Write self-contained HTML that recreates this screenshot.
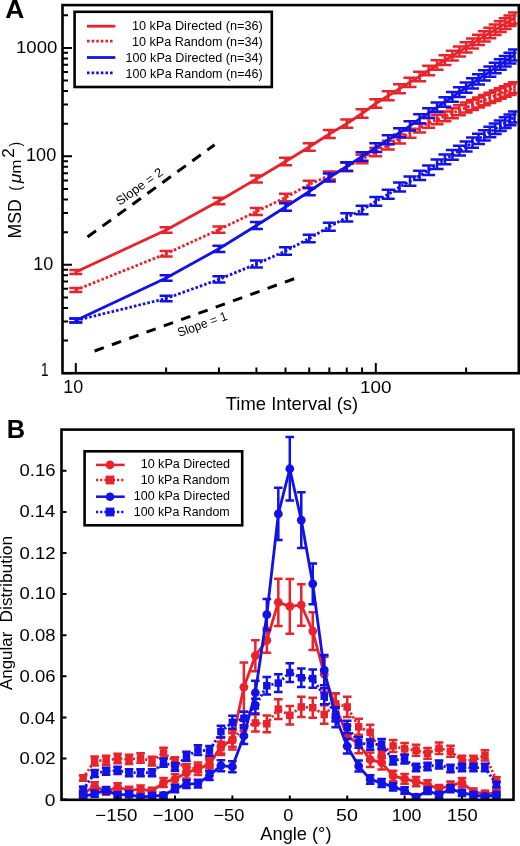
<!DOCTYPE html><html><head><meta charset="utf-8"><style>
html,body{margin:0;padding:0;background:#fff;}
body{width:520px;height:846px;overflow:hidden;}
svg{display:block;will-change:transform;}
text{font-family:"Liberation Sans", sans-serif;fill:#000;}
</style></head><body>
<svg width="520" height="846" viewBox="0 0 520 846">
<text transform="translate(5.34,18.30) scale(0.9917,1)" font-size="26.60" font-weight="bold">A</text>
<defs><clipPath id="ca"><rect x="63.5" y="6.5" width="454" height="365.5"/></clipPath>
<clipPath id="cb"><rect x="62.5" y="430.5" width="450" height="368.5"/></clipPath></defs>
<line x1="87.5" y1="237" x2="214.6" y2="144.8" stroke="#000" stroke-width="3" stroke-dasharray="10.5 8"/>
<line x1="94.6" y1="351" x2="294.6" y2="278.6" stroke="#000" stroke-width="3" stroke-dasharray="9.8 8.6"/>
<text transform="translate(120.30,205.60) rotate(-35.90) translate(-0.59,0) scale(1.0176,1)" font-size="12.60">Slope = 2</text>
<text transform="translate(179.80,336.90) rotate(-19.80) translate(-0.56,0) scale(0.9696,1)" font-size="12.60">Slope = 1</text>
<g clip-path="url(#ca)">
<path d="M75.80,320.50 L166.11,298.50 L218.94,279.40 L256.42,264.00 L285.49,251.00 L309.25,238.50 L329.33,226.70 L346.73,217.40 L362.07,210.00 L375.80,201.30 L388.22,194.30 L399.55,187.00 L409.98,181.20 L419.64,175.40 L428.63,170.30 L437.04,164.30 L444.93,159.48 L452.38,154.93 L459.43,150.63 L466.11,146.55 L472.47,142.67 L478.53,138.97 L484.32,135.44 L489.86,132.05 L495.18,128.80 L500.29,125.69 L505.21,122.68 L509.95,119.79 L514.52,117.00" fill="none" stroke="#1212E6" stroke-width="2.8" stroke-dasharray="2.6 2"/><path d="M75.80,318.40V322.60M69.30,318.40h13M69.30,322.60h13M166.11,295.72V301.28M159.61,295.72h13M159.61,301.28h13M218.94,276.23V282.57M212.44,276.23h13M212.44,282.57h13M256.42,260.55V267.45M249.92,260.55h13M249.92,267.45h13M285.49,247.33V254.67M278.99,247.33h13M278.99,254.67h13M309.25,234.65V242.35M302.75,234.65h13M302.75,242.35h13M329.33,222.70V230.70M322.83,222.70h13M322.83,230.70h13M346.73,213.27V221.53M340.23,213.27h13M340.23,221.53h13M362.07,205.76V214.24M355.57,205.76h13M355.57,214.24h13M375.80,196.96V205.64M369.30,196.96h13M369.30,205.64h13M388.22,189.86V198.74M381.72,189.86h13M381.72,198.74h13M399.55,182.48V191.52M393.05,182.48h13M393.05,191.52h13M409.98,176.60V185.80M403.48,176.60h13M403.48,185.80h13M419.64,170.73V180.07M413.14,170.73h13M413.14,180.07h13M428.63,165.56V175.04M422.13,165.56h13M422.13,175.04h13M437.04,159.50V169.10M430.54,159.50h13M430.54,169.10h13M444.93,154.62V164.34M438.43,154.62h13M438.43,164.34h13M452.38,150.01V159.85M445.88,150.01h13M445.88,159.85h13M459.43,145.66V155.60M452.93,145.66h13M452.93,155.60h13M466.11,141.53V151.57M459.61,141.53h13M459.61,151.57h13M472.47,137.60V147.74M465.97,137.60h13M465.97,147.74h13M478.53,133.86V144.09M472.03,133.86h13M472.03,144.09h13M484.32,130.28V140.59M477.82,130.28h13M477.82,140.59h13M489.86,126.85V137.25M483.36,126.85h13M483.36,137.25h13M495.18,123.57V134.04M488.68,123.57h13M488.68,134.04h13M500.29,120.41V130.96M493.79,120.41h13M493.79,130.96h13M505.21,117.37V128.00M498.71,117.37h13M498.71,128.00h13M509.95,114.44V125.14M503.45,114.44h13M503.45,125.14h13M514.52,111.62V122.38M508.02,111.62h13M508.02,122.38h13" fill="none" stroke="#1212E6" stroke-width="2.5"/>
<path d="M75.80,290.00 L166.11,253.70 L218.94,229.60 L256.42,211.50 L285.49,197.50 L309.25,184.50 L329.33,175.50 L346.73,167.00 L362.07,159.08 L375.80,152.00 L388.22,145.18 L399.55,138.96 L409.98,133.23 L419.64,127.93 L428.63,123.00 L437.04,119.54 L444.93,116.30 L452.38,113.24 L459.43,110.34 L466.11,107.60 L472.47,104.98 L478.53,102.49 L484.32,100.11 L489.86,97.83 L495.18,95.65 L500.29,93.55 L505.21,91.53 L509.95,89.58 L514.52,87.70" fill="none" stroke="#E8232B" stroke-width="2.8" stroke-dasharray="2.6 2"/><path d="M75.80,287.90V292.10M69.30,287.90h13M69.30,292.10h13M166.11,250.92V256.48M159.61,250.92h13M159.61,256.48h13M218.94,226.43V232.77M212.44,226.43h13M212.44,232.77h13M256.42,208.05V214.95M249.92,208.05h13M249.92,214.95h13M285.49,193.83V201.17M278.99,193.83h13M278.99,201.17h13M309.25,180.65V188.35M302.75,180.65h13M302.75,188.35h13M329.33,171.50V179.50M322.83,171.50h13M322.83,179.50h13M346.73,162.87V171.13M340.23,162.87h13M340.23,171.13h13M362.07,154.84V163.32M355.57,154.84h13M355.57,163.32h13M375.80,147.66V156.34M369.30,147.66h13M369.30,156.34h13M388.22,140.75V149.62M381.72,140.75h13M381.72,149.62h13M399.55,134.44V143.48M393.05,134.44h13M393.05,143.48h13M409.98,128.63V137.84M403.48,128.63h13M403.48,137.84h13M419.64,123.26V132.61M413.14,123.26h13M413.14,132.61h13M428.63,118.26V127.74M422.13,118.26h13M422.13,127.74h13M437.04,114.74V124.35M430.54,114.74h13M430.54,124.35h13M444.93,111.44V121.16M438.43,111.44h13M438.43,121.16h13M452.38,108.32V118.16M445.88,108.32h13M445.88,118.16h13M459.43,105.37V115.31M452.93,105.37h13M452.93,115.31h13M466.11,102.58V112.62M459.61,102.58h13M459.61,112.62h13M472.47,99.91V110.05M465.97,99.91h13M465.97,110.05h13M478.53,97.38V107.61M472.03,97.38h13M472.03,107.61h13M484.32,94.96V105.27M477.82,94.96h13M477.82,105.27h13M489.86,92.63V103.03M483.36,92.63h13M483.36,103.03h13M495.18,90.41V100.89M488.68,90.41h13M488.68,100.89h13M500.29,88.27V98.82M493.79,88.27h13M493.79,98.82h13M505.21,86.21V96.84M498.71,86.21h13M498.71,96.84h13M509.95,84.23V94.93M503.45,84.23h13M503.45,94.93h13M514.52,82.32V93.08M508.02,82.32h13M508.02,93.08h13" fill="none" stroke="#E8232B" stroke-width="2.5"/>
<path d="M75.80,320.50 L166.11,278.00 L218.94,248.80 L256.42,225.50 L285.49,207.00 L309.25,191.50 L329.33,177.50 L346.73,166.50 L362.07,156.50 L375.80,147.70 L388.22,139.70 L399.55,132.70 L409.98,125.80 L419.64,118.90 L428.63,113.10 L437.04,107.30 L444.93,102.00 L452.38,96.90 L459.43,92.15 L466.11,87.64 L472.47,83.36 L478.53,79.27 L484.32,75.36 L489.86,71.63 L495.18,68.04 L500.29,64.59 L505.21,61.28 L509.95,58.08 L514.52,55.00" fill="none" stroke="#1212E6" stroke-width="2.8"/><path d="M75.80,318.40V322.60M69.30,318.40h13M69.30,322.60h13M166.11,275.22V280.78M159.61,275.22h13M159.61,280.78h13M218.94,245.63V251.97M212.44,245.63h13M212.44,251.97h13M256.42,222.05V228.95M249.92,222.05h13M249.92,228.95h13M285.49,203.33V210.67M278.99,203.33h13M278.99,210.67h13M309.25,187.65V195.35M302.75,187.65h13M302.75,195.35h13M329.33,173.50V181.50M322.83,173.50h13M322.83,181.50h13M346.73,162.37V170.63M340.23,162.37h13M340.23,170.63h13M362.07,152.26V160.74M355.57,152.26h13M355.57,160.74h13M375.80,143.36V152.04M369.30,143.36h13M369.30,152.04h13M388.22,135.26V144.14M381.72,135.26h13M381.72,144.14h13M399.55,128.18V137.22M393.05,128.18h13M393.05,137.22h13M409.98,121.20V130.40M403.48,121.20h13M403.48,130.40h13M419.64,114.23V123.57M413.14,114.23h13M413.14,123.57h13M428.63,108.36V117.84M422.13,108.36h13M422.13,117.84h13M437.04,102.50V112.10M430.54,102.50h13M430.54,112.10h13M444.93,97.14V106.86M438.43,97.14h13M438.43,106.86h13M452.38,91.98V101.82M445.88,91.98h13M445.88,101.82h13M459.43,87.18V97.12M452.93,87.18h13M452.93,97.12h13M466.11,82.62V92.66M459.61,82.62h13M459.61,92.66h13M472.47,78.29V88.43M465.97,78.29h13M465.97,88.43h13M478.53,74.16V84.38M472.03,74.16h13M472.03,84.38h13M484.32,70.21V80.52M477.82,70.21h13M477.82,80.52h13M489.86,66.43V76.82M483.36,66.43h13M483.36,76.82h13M495.18,62.80V73.28M488.68,62.80h13M488.68,73.28h13M500.29,59.32V69.87M493.79,59.32h13M493.79,69.87h13M505.21,55.96V66.59M498.71,55.96h13M498.71,66.59h13M509.95,52.73V63.43M503.45,52.73h13M503.45,63.43h13M514.52,49.62V60.38M508.02,49.62h13M508.02,60.38h13" fill="none" stroke="#1212E6" stroke-width="2.5"/>
<path d="M75.80,272.00 L166.11,230.00 L218.94,201.00 L256.42,179.00 L285.49,161.50 L309.25,147.00 L329.33,134.00 L346.73,123.70 L362.07,113.50 L375.80,103.50 L388.22,95.80 L399.55,88.80 L409.98,82.30 L419.64,76.50 L428.63,70.50 L437.04,65.00 L444.93,60.21 L452.38,55.69 L459.43,51.42 L466.11,47.36 L472.47,43.51 L478.53,39.83 L484.32,36.32 L489.86,32.96 L495.18,29.73 L500.29,26.63 L505.21,23.65 L509.95,20.77 L514.52,18.00" fill="none" stroke="#E8232B" stroke-width="2.8"/><path d="M75.80,269.90V274.10M69.30,269.90h13M69.30,274.10h13M166.11,227.22V232.78M159.61,227.22h13M159.61,232.78h13M218.94,197.83V204.17M212.44,197.83h13M212.44,204.17h13M256.42,175.55V182.45M249.92,175.55h13M249.92,182.45h13M285.49,157.83V165.17M278.99,157.83h13M278.99,165.17h13M309.25,143.15V150.85M302.75,143.15h13M302.75,150.85h13M329.33,130.00V138.00M322.83,130.00h13M322.83,138.00h13M346.73,119.57V127.83M340.23,119.57h13M340.23,127.83h13M362.07,109.26V117.74M355.57,109.26h13M355.57,117.74h13M375.80,99.16V107.84M369.30,99.16h13M369.30,107.84h13M388.22,91.36V100.24M381.72,91.36h13M381.72,100.24h13M399.55,84.28V93.32M393.05,84.28h13M393.05,93.32h13M409.98,77.70V86.90M403.48,77.70h13M403.48,86.90h13M419.64,71.83V81.17M413.14,71.83h13M413.14,81.17h13M428.63,65.76V75.24M422.13,65.76h13M422.13,75.24h13M437.04,60.20V69.80M430.54,60.20h13M430.54,69.80h13M444.93,55.35V65.07M438.43,55.35h13M438.43,65.07h13M452.38,50.77V60.61M445.88,50.77h13M445.88,60.61h13M459.43,46.45V56.39M452.93,46.45h13M452.93,56.39h13M466.11,42.34V52.39M459.61,42.34h13M459.61,52.39h13M472.47,38.44V48.58M465.97,38.44h13M465.97,48.58h13M478.53,34.72V44.95M472.03,34.72h13M472.03,44.95h13M484.32,31.16V41.48M477.82,31.16h13M477.82,41.48h13M489.86,27.76V38.15M483.36,27.76h13M483.36,38.15h13M495.18,24.49V34.97M488.68,24.49h13M488.68,34.97h13M500.29,21.35V31.91M493.79,21.35h13M493.79,31.91h13M505.21,18.33V28.96M498.71,18.33h13M498.71,28.96h13M509.95,15.42V26.12M503.45,15.42h13M503.45,26.12h13M514.52,12.62V23.38M508.02,12.62h13M508.02,23.38h13" fill="none" stroke="#E8232B" stroke-width="2.5"/>
</g>
<path d="M63,373.20h9M63,340.56h5M63,321.47h5M63,307.92h5M63,297.41h5M63,288.83h5M63,281.57h5M63,275.28h5M63,269.73h5M63,264.77h9M63,232.13h5M63,213.04h5M63,199.49h5M63,188.98h5M63,180.40h5M63,173.14h5M63,166.85h5M63,161.30h5M63,156.34h9M63,123.70h5M63,104.61h5M63,91.06h5M63,80.55h5M63,71.97h5M63,64.71h5M63,58.42h5M63,52.87h5M63,47.91h9M63,15.27h5M75.80,373v-10.0M166.11,373v-5.5M218.94,373v-5.5M256.42,373v-5.5M285.49,373v-5.5M309.25,373v-5.5M329.33,373v-5.5M346.73,373v-5.5M362.07,373v-5.5M375.80,373v-10.0M466.11,373v-5.5" stroke="#000" stroke-width="2" fill="none"/>
<rect x="62.5" y="5.1" width="456.3" height="368.1" fill="none" stroke="#000" stroke-width="2.6"/>
<text transform="translate(15.99,52.83) scale(1.0787,1)" font-size="17.23">1000</text>
<text transform="translate(26.02,161.42) scale(1.0331,1)" font-size="17.51">100</text>
<text transform="translate(33.24,269.52) scale(1.0009,1)" font-size="17.94">10</text>
<text transform="translate(41.08,376.12) scale(0.7502,1)" font-size="17.94">1</text>
<text transform="translate(63.24,392.82) scale(1.0251,1)" font-size="17.51">10</text>
<text transform="translate(360.07,393.13) scale(1.1039,1)" font-size="17.09">100</text>
<text transform="translate(225.79,410.00) scale(1.0289,1)" font-size="17.90">Time Interval (s)</text>
<text transform="translate(21.30,237.10) rotate(-90.00) translate(-1.45,0) scale(0.9854,1)" font-size="17.90">MSD</text>
<text transform="translate(20.80,237.10) rotate(-90.00) translate(46.29,0) scale(0.8507,1)" font-size="17.30">(</text>
<text transform="translate(20.50,237.10) rotate(-90.00) translate(53.77,0) scale(1.1360,1)" font-size="15.60" font-style="italic">&#956;</text>
<text transform="translate(20.60,237.10) rotate(-90.00) translate(63.37,0) scale(1.1044,1)" font-size="15.50">m</text>
<text transform="translate(13.60,237.10) rotate(-90.00) translate(79.24,0) scale(1.0367,1)" font-size="16.50">2</text>
<text transform="translate(20.80,237.10) rotate(-90.00) translate(90.62,0) scale(0.7853,1)" font-size="17.30">)</text>
<rect x="74.6" y="11.8" width="197.2" height="75.2" fill="#fff" stroke="#000" stroke-width="2.6"/>
<line x1="87" y1="26.2" x2="115.3" y2="26.2" stroke="#E8232B" stroke-width="2.8"/>
<line x1="87" y1="41.2" x2="112.6" y2="41.2" stroke="#E8232B" stroke-width="2.8" stroke-dasharray="2.6 2"/>
<line x1="87" y1="57.5" x2="115.3" y2="57.5" stroke="#1212E6" stroke-width="2.8"/>
<line x1="87" y1="72.8" x2="112.6" y2="72.8" stroke="#1212E6" stroke-width="2.8" stroke-dasharray="2.6 2"/>
<text transform="translate(131.94,30.20) scale(0.9992,1)" font-size="12.70">10 kPa Directed (n=36)</text>
<text transform="translate(131.94,46.00) scale(0.9938,1)" font-size="12.70">10 kPa Random (n=34)</text>
<text transform="translate(125.54,61.90) scale(0.9944,1)" font-size="12.70">100 kPa Directed (n=34)</text>
<text transform="translate(125.55,78.30) scale(0.9893,1)" font-size="12.70">100 kPa Random (n=46)</text>
<text transform="translate(6.70,437.70) scale(0.9553,1)" font-size="26.60" font-weight="bold">B</text>
<g clip-path="url(#cb)">
<path d="M83.16,793.44 L94.64,786.24 L106.12,791.38 L117.60,787.27 L129.08,790.35 L140.56,789.12 L152.04,791.17 L163.52,782.54 L175.00,779.05 L186.48,772.88 L197.96,768.77 L209.44,764.66 L220.92,746.17 L232.40,740.00 L243.88,687.19 L255.36,655.75 L266.84,640.34 L278.32,602.32 L289.80,606.43 L301.28,604.99 L312.76,631.09 L324.24,674.25 L335.72,707.12 L347.20,735.89 L358.68,744.12 L370.16,759.73 L381.64,762.61 L393.12,775.97 L404.60,778.84 L416.08,781.52 L427.56,784.60 L439.04,788.71 L450.52,785.63 L462.00,782.54 L473.48,791.79 L484.96,793.85 L496.44,792.82" fill="none" stroke="#E8232B" stroke-width="2.8"/><path d="M83.16,790.23V796.64M78.86,790.23h8.6M78.86,796.64h8.6M94.64,782.17V790.31M90.34,782.17h8.6M90.34,790.31h8.6M106.12,787.93V794.83M101.82,787.93h8.6M101.82,794.83h8.6M117.60,783.32V791.22M113.30,783.32h8.6M113.30,791.22h8.6M129.08,786.78V793.93M124.78,786.78h8.6M124.78,793.93h8.6M140.56,785.40V792.84M136.26,785.40h8.6M136.26,792.84h8.6M152.04,787.70V794.65M147.74,787.70h8.6M147.74,794.65h8.6M163.52,778.03V787.06M159.22,778.03h8.6M159.22,787.06h8.6M175.00,774.12V783.98M170.70,774.12h8.6M170.70,783.98h8.6M186.48,767.21V778.56M182.18,767.21h8.6M182.18,778.56h8.6M197.96,762.61V774.94M193.66,762.61h8.6M193.66,774.94h8.6M209.44,758.01V771.32M205.14,758.01h8.6M205.14,771.32h8.6M220.92,737.29V755.05M216.62,737.29h8.6M216.62,755.05h8.6M232.40,730.39V749.62M228.10,730.39h8.6M228.10,749.62h8.6M243.88,662.53V711.85M239.58,662.53h8.6M239.58,711.85h8.6M255.36,640.13V671.37M251.06,640.13h8.6M251.06,671.37h8.6M266.84,628.01V652.67M262.54,628.01h8.6M262.54,652.67h8.6M278.32,578.69V625.95M274.02,578.69h8.6M274.02,625.95h8.6M289.80,579.10V633.76M285.50,579.10h8.6M285.50,633.76h8.6M301.28,584.24V625.75M296.98,584.24h8.6M296.98,625.75h8.6M312.76,612.18V650.00M308.46,612.18h8.6M308.46,650.00h8.6M324.24,656.74V691.75M319.94,656.74h8.6M319.94,691.75h8.6M335.72,693.56V720.69M331.42,693.56h8.6M331.42,720.69h8.6M347.20,725.78V746.01M342.90,725.78h8.6M342.90,746.01h8.6M358.68,734.99V753.24M354.38,734.99h8.6M354.38,753.24h8.6M370.16,752.48V766.98M365.86,752.48h8.6M365.86,766.98h8.6M381.64,755.71V769.51M377.34,755.71h8.6M377.34,769.51h8.6M393.12,770.67V781.27M388.82,770.67h8.6M388.82,781.27h8.6M404.60,773.89V783.80M400.30,773.89h8.6M400.30,783.80h8.6M416.08,776.88V786.15M411.78,776.88h8.6M411.78,786.15h8.6M427.56,780.33V788.86M423.26,780.33h8.6M423.26,788.86h8.6M439.04,784.94V792.48M434.74,784.94h8.6M434.74,792.48h8.6M450.52,781.48V789.77M446.22,781.48h8.6M446.22,789.77h8.6M462.00,778.03V787.06M457.70,778.03h8.6M457.70,787.06h8.6M473.48,788.39V795.19M469.18,788.39h8.6M469.18,795.19h8.6M484.96,790.69V797.00M480.66,790.69h8.6M480.66,797.00h8.6M496.44,789.54V796.10M492.14,789.54h8.6M492.14,796.10h8.6" fill="none" stroke="#E8232B" stroke-width="2.5"/><circle cx="83.16" cy="793.44" r="4.4" fill="#E8232B"/><circle cx="94.64" cy="786.24" r="4.4" fill="#E8232B"/><circle cx="106.12" cy="791.38" r="4.4" fill="#E8232B"/><circle cx="117.60" cy="787.27" r="4.4" fill="#E8232B"/><circle cx="129.08" cy="790.35" r="4.4" fill="#E8232B"/><circle cx="140.56" cy="789.12" r="4.4" fill="#E8232B"/><circle cx="152.04" cy="791.17" r="4.4" fill="#E8232B"/><circle cx="163.52" cy="782.54" r="4.4" fill="#E8232B"/><circle cx="175.00" cy="779.05" r="4.4" fill="#E8232B"/><circle cx="186.48" cy="772.88" r="4.4" fill="#E8232B"/><circle cx="197.96" cy="768.77" r="4.4" fill="#E8232B"/><circle cx="209.44" cy="764.66" r="4.4" fill="#E8232B"/><circle cx="220.92" cy="746.17" r="4.4" fill="#E8232B"/><circle cx="232.40" cy="740.00" r="4.4" fill="#E8232B"/><circle cx="243.88" cy="687.19" r="4.4" fill="#E8232B"/><circle cx="255.36" cy="655.75" r="4.4" fill="#E8232B"/><circle cx="266.84" cy="640.34" r="4.4" fill="#E8232B"/><circle cx="278.32" cy="602.32" r="4.4" fill="#E8232B"/><circle cx="289.80" cy="606.43" r="4.4" fill="#E8232B"/><circle cx="301.28" cy="604.99" r="4.4" fill="#E8232B"/><circle cx="312.76" cy="631.09" r="4.4" fill="#E8232B"/><circle cx="324.24" cy="674.25" r="4.4" fill="#E8232B"/><circle cx="335.72" cy="707.12" r="4.4" fill="#E8232B"/><circle cx="347.20" cy="735.89" r="4.4" fill="#E8232B"/><circle cx="358.68" cy="744.12" r="4.4" fill="#E8232B"/><circle cx="370.16" cy="759.73" r="4.4" fill="#E8232B"/><circle cx="381.64" cy="762.61" r="4.4" fill="#E8232B"/><circle cx="393.12" cy="775.97" r="4.4" fill="#E8232B"/><circle cx="404.60" cy="778.84" r="4.4" fill="#E8232B"/><circle cx="416.08" cy="781.52" r="4.4" fill="#E8232B"/><circle cx="427.56" cy="784.60" r="4.4" fill="#E8232B"/><circle cx="439.04" cy="788.71" r="4.4" fill="#E8232B"/><circle cx="450.52" cy="785.63" r="4.4" fill="#E8232B"/><circle cx="462.00" cy="782.54" r="4.4" fill="#E8232B"/><circle cx="473.48" cy="791.79" r="4.4" fill="#E8232B"/><circle cx="484.96" cy="793.85" r="4.4" fill="#E8232B"/><circle cx="496.44" cy="792.82" r="4.4" fill="#E8232B"/>
<path d="M83.16,778.02 L94.64,760.97 L106.12,760.35 L117.60,758.50 L129.08,759.32 L140.56,758.09 L152.04,761.17 L163.52,752.95 L175.00,761.58 L186.48,767.75 L197.96,768.57 L209.44,763.84 L220.92,747.61 L232.40,740.00 L243.88,727.67 L255.36,722.95 L266.84,723.77 L278.32,709.18 L289.80,715.35 L301.28,706.92 L312.76,707.74 L324.24,714.52 L335.72,703.84 L347.20,706.92 L358.68,726.85 L370.16,732.20 L381.64,752.95 L393.12,745.96 L404.60,748.84 L416.08,750.28 L427.56,753.36 L439.04,748.23 L450.52,751.31 L462.00,760.35 L473.48,760.35 L484.96,755.42 L496.44,779.67" fill="none" stroke="#E8232B" stroke-width="2.8" stroke-dasharray="2.2 2"/><path d="M83.16,775.35V780.70M78.86,775.35h8.6M78.86,780.70h8.6M94.64,756.50V765.43M90.34,756.50h8.6M90.34,765.43h8.6M106.12,755.82V764.88M101.82,755.82h8.6M101.82,764.88h8.6M117.60,753.77V763.23M113.30,753.77h8.6M113.30,763.23h8.6M129.08,754.68V763.96M124.78,754.68h8.6M124.78,763.96h8.6M140.56,753.32V762.86M136.26,753.32h8.6M136.26,762.86h8.6M152.04,756.73V765.62M147.74,756.73h8.6M147.74,765.62h8.6M163.52,747.64V758.26M159.22,747.64h8.6M159.22,758.26h8.6M175.00,757.18V765.99M170.70,757.18h8.6M170.70,765.99h8.6M186.48,763.99V771.50M182.18,763.99h8.6M182.18,771.50h8.6M197.96,764.90V772.24M193.66,764.90h8.6M193.66,772.24h8.6M209.44,759.68V768.01M205.14,759.68h8.6M205.14,768.01h8.6M220.92,741.74V753.48M216.62,741.74h8.6M216.62,753.48h8.6M232.40,733.34V746.67M228.10,733.34h8.6M228.10,746.67h8.6M243.88,719.71V735.64M239.58,719.71h8.6M239.58,735.64h8.6M255.36,714.49V731.41M251.06,714.49h8.6M251.06,731.41h8.6M266.84,715.40V732.14M262.54,715.40h8.6M262.54,732.14h8.6M278.32,699.27V719.09M274.02,699.27h8.6M274.02,719.09h8.6M289.80,706.09V724.60M285.50,706.09h8.6M285.50,724.60h8.6M301.28,696.78V717.06M296.98,696.78h8.6M296.98,717.06h8.6M312.76,697.69V717.80M308.46,697.69h8.6M308.46,717.80h8.6M324.24,705.18V723.87M319.94,705.18h8.6M319.94,723.87h8.6M335.72,693.37V714.30M331.42,693.37h8.6M331.42,714.30h8.6M347.20,696.78V717.06M342.90,696.78h8.6M342.90,717.06h8.6M358.68,718.80V734.90M354.38,718.80h8.6M354.38,734.90h8.6M370.16,724.71V739.68M365.86,724.71h8.6M365.86,739.68h8.6M381.64,747.64V758.26M377.34,747.64h8.6M377.34,758.26h8.6M393.12,739.92V752.01M388.82,739.92h8.6M388.82,752.01h8.6M404.60,743.10V754.58M400.30,743.10h8.6M400.30,754.58h8.6M416.08,744.69V755.87M411.78,744.69h8.6M411.78,755.87h8.6M427.56,748.10V758.63M423.26,748.10h8.6M423.26,758.63h8.6M439.04,742.42V754.03M434.74,742.42h8.6M434.74,754.03h8.6M450.52,745.83V756.79M446.22,745.83h8.6M446.22,756.79h8.6M462.00,755.82V764.88M457.70,755.82h8.6M457.70,764.88h8.6M473.48,755.82V764.88M469.18,755.82h8.6M469.18,764.88h8.6M484.96,750.37V760.47M480.66,750.37h8.6M480.66,760.47h8.6M496.44,777.16V782.17M492.14,777.16h8.6M492.14,782.17h8.6" fill="none" stroke="#E8232B" stroke-width="2.5"/><rect x="79.41" y="774.27" width="7.5" height="7.5" fill="#E8232B"/><rect x="90.89" y="757.22" width="7.5" height="7.5" fill="#E8232B"/><rect x="102.37" y="756.60" width="7.5" height="7.5" fill="#E8232B"/><rect x="113.85" y="754.75" width="7.5" height="7.5" fill="#E8232B"/><rect x="125.33" y="755.57" width="7.5" height="7.5" fill="#E8232B"/><rect x="136.81" y="754.34" width="7.5" height="7.5" fill="#E8232B"/><rect x="148.29" y="757.42" width="7.5" height="7.5" fill="#E8232B"/><rect x="159.77" y="749.20" width="7.5" height="7.5" fill="#E8232B"/><rect x="171.25" y="757.83" width="7.5" height="7.5" fill="#E8232B"/><rect x="182.73" y="764.00" width="7.5" height="7.5" fill="#E8232B"/><rect x="194.21" y="764.82" width="7.5" height="7.5" fill="#E8232B"/><rect x="205.69" y="760.09" width="7.5" height="7.5" fill="#E8232B"/><rect x="217.17" y="743.86" width="7.5" height="7.5" fill="#E8232B"/><rect x="228.65" y="736.25" width="7.5" height="7.5" fill="#E8232B"/><rect x="240.13" y="723.92" width="7.5" height="7.5" fill="#E8232B"/><rect x="251.61" y="719.20" width="7.5" height="7.5" fill="#E8232B"/><rect x="263.09" y="720.02" width="7.5" height="7.5" fill="#E8232B"/><rect x="274.57" y="705.43" width="7.5" height="7.5" fill="#E8232B"/><rect x="286.05" y="711.60" width="7.5" height="7.5" fill="#E8232B"/><rect x="297.53" y="703.17" width="7.5" height="7.5" fill="#E8232B"/><rect x="309.01" y="703.99" width="7.5" height="7.5" fill="#E8232B"/><rect x="320.49" y="710.77" width="7.5" height="7.5" fill="#E8232B"/><rect x="331.97" y="700.09" width="7.5" height="7.5" fill="#E8232B"/><rect x="343.45" y="703.17" width="7.5" height="7.5" fill="#E8232B"/><rect x="354.93" y="723.10" width="7.5" height="7.5" fill="#E8232B"/><rect x="366.41" y="728.45" width="7.5" height="7.5" fill="#E8232B"/><rect x="377.89" y="749.20" width="7.5" height="7.5" fill="#E8232B"/><rect x="389.37" y="742.21" width="7.5" height="7.5" fill="#E8232B"/><rect x="400.85" y="745.09" width="7.5" height="7.5" fill="#E8232B"/><rect x="412.33" y="746.53" width="7.5" height="7.5" fill="#E8232B"/><rect x="423.81" y="749.61" width="7.5" height="7.5" fill="#E8232B"/><rect x="435.29" y="744.48" width="7.5" height="7.5" fill="#E8232B"/><rect x="446.77" y="747.56" width="7.5" height="7.5" fill="#E8232B"/><rect x="458.25" y="756.60" width="7.5" height="7.5" fill="#E8232B"/><rect x="469.73" y="756.60" width="7.5" height="7.5" fill="#E8232B"/><rect x="481.21" y="751.67" width="7.5" height="7.5" fill="#E8232B"/><rect x="492.69" y="775.92" width="7.5" height="7.5" fill="#E8232B"/>
<path d="M83.16,796.52 L94.64,793.64 L106.12,790.35 L117.60,795.08 L129.08,794.26 L140.56,797.34 L152.04,795.90 L163.52,795.49 L175.00,788.71 L186.48,784.19 L197.96,783.57 L209.44,775.35 L220.92,765.69 L232.40,766.72 L243.88,735.89 L255.36,692.74 L266.84,614.65 L278.32,513.95 L289.80,468.75 L301.28,520.12 L312.76,583.83 L324.24,670.13 L335.72,717.40 L347.20,746.17 L358.68,766.10 L370.16,779.46 L381.64,782.95 L393.12,786.86 L404.60,790.56 L416.08,797.13 L427.56,790.76 L439.04,794.87 L450.52,788.71 L462.00,792.82 L473.48,794.87 L484.96,796.72 L496.44,794.87" fill="none" stroke="#1212E6" stroke-width="2.8"/><path d="M83.16,793.77V799.26M78.86,793.77h8.6M78.86,799.26h8.6M94.64,790.64V796.64M90.34,790.64h8.6M90.34,796.64h8.6M106.12,787.05V793.65M101.82,787.05h8.6M101.82,793.65h8.6M117.60,792.21V797.95M113.30,792.21h8.6M113.30,797.95h8.6M129.08,791.31V797.20M124.78,791.31h8.6M124.78,797.20h8.6M140.56,794.67V800.01M136.26,794.67h8.6M136.26,800.01h8.6M152.04,793.10V798.70M147.74,793.10h8.6M147.74,798.70h8.6M163.52,792.65V798.33M159.22,792.65h8.6M159.22,798.33h8.6M175.00,785.26V792.15M170.70,785.26h8.6M170.70,792.15h8.6M186.48,780.33V788.04M182.18,780.33h8.6M182.18,788.04h8.6M197.96,779.66V787.48M193.66,779.66h8.6M193.66,787.48h8.6M209.44,770.70V780.00M205.14,770.70h8.6M205.14,780.00h8.6M220.92,760.17V771.21M216.62,760.17h8.6M216.62,771.21h8.6M232.40,761.29V772.15M228.10,761.29h8.6M228.10,772.15h8.6M243.88,727.70V744.09M239.58,727.70h8.6M239.58,744.09h8.6M255.36,680.66V704.82M251.06,680.66h8.6M251.06,704.82h8.6M266.84,599.03V630.27M262.54,599.03h8.6M262.54,630.27h8.6M278.32,487.86V540.05M274.02,487.86h8.6M274.02,540.05h8.6M289.80,436.89V500.60M285.50,436.89h8.6M285.50,500.60h8.6M301.28,492.17V548.07M296.98,492.17h8.6M296.98,548.07h8.6M312.76,563.48V604.17M308.46,563.48h8.6M308.46,604.17h8.6M324.24,654.93V685.34M319.94,654.93h8.6M319.94,685.34h8.6M335.72,707.54V727.26M331.42,707.54h8.6M331.42,727.26h8.6M347.20,738.90V753.44M342.90,738.90h8.6M342.90,753.44h8.6M358.68,760.62V771.58M354.38,760.62h8.6M354.38,771.58h8.6M370.16,775.18V783.74M365.86,775.18h8.6M365.86,783.74h8.6M381.64,778.99V786.92M377.34,778.99h8.6M377.34,786.92h8.6M393.12,783.25V790.47M388.82,783.25h8.6M388.82,790.47h8.6M404.60,787.28V793.84M400.30,787.28h8.6M400.30,793.84h8.6M416.08,794.45V799.82M411.78,794.45h8.6M411.78,799.82h8.6M427.56,787.50V794.02M423.26,787.50h8.6M423.26,794.02h8.6M439.04,791.98V797.76M434.74,791.98h8.6M434.74,797.76h8.6M450.52,785.26V792.15M446.22,785.26h8.6M446.22,792.15h8.6M462.00,789.74V795.89M457.70,789.74h8.6M457.70,795.89h8.6M473.48,791.98V797.76M469.18,791.98h8.6M469.18,797.76h8.6M484.96,794.00V799.45M480.66,794.00h8.6M480.66,799.45h8.6M496.44,791.98V797.76M492.14,791.98h8.6M492.14,797.76h8.6" fill="none" stroke="#1212E6" stroke-width="2.5"/><circle cx="83.16" cy="796.52" r="4.4" fill="#1212E6"/><circle cx="94.64" cy="793.64" r="4.4" fill="#1212E6"/><circle cx="106.12" cy="790.35" r="4.4" fill="#1212E6"/><circle cx="117.60" cy="795.08" r="4.4" fill="#1212E6"/><circle cx="129.08" cy="794.26" r="4.4" fill="#1212E6"/><circle cx="140.56" cy="797.34" r="4.4" fill="#1212E6"/><circle cx="152.04" cy="795.90" r="4.4" fill="#1212E6"/><circle cx="163.52" cy="795.49" r="4.4" fill="#1212E6"/><circle cx="175.00" cy="788.71" r="4.4" fill="#1212E6"/><circle cx="186.48" cy="784.19" r="4.4" fill="#1212E6"/><circle cx="197.96" cy="783.57" r="4.4" fill="#1212E6"/><circle cx="209.44" cy="775.35" r="4.4" fill="#1212E6"/><circle cx="220.92" cy="765.69" r="4.4" fill="#1212E6"/><circle cx="232.40" cy="766.72" r="4.4" fill="#1212E6"/><circle cx="243.88" cy="735.89" r="4.4" fill="#1212E6"/><circle cx="255.36" cy="692.74" r="4.4" fill="#1212E6"/><circle cx="266.84" cy="614.65" r="4.4" fill="#1212E6"/><circle cx="278.32" cy="513.95" r="4.4" fill="#1212E6"/><circle cx="289.80" cy="468.75" r="4.4" fill="#1212E6"/><circle cx="301.28" cy="520.12" r="4.4" fill="#1212E6"/><circle cx="312.76" cy="583.83" r="4.4" fill="#1212E6"/><circle cx="324.24" cy="670.13" r="4.4" fill="#1212E6"/><circle cx="335.72" cy="717.40" r="4.4" fill="#1212E6"/><circle cx="347.20" cy="746.17" r="4.4" fill="#1212E6"/><circle cx="358.68" cy="766.10" r="4.4" fill="#1212E6"/><circle cx="370.16" cy="779.46" r="4.4" fill="#1212E6"/><circle cx="381.64" cy="782.95" r="4.4" fill="#1212E6"/><circle cx="393.12" cy="786.86" r="4.4" fill="#1212E6"/><circle cx="404.60" cy="790.56" r="4.4" fill="#1212E6"/><circle cx="416.08" cy="797.13" r="4.4" fill="#1212E6"/><circle cx="427.56" cy="790.76" r="4.4" fill="#1212E6"/><circle cx="439.04" cy="794.87" r="4.4" fill="#1212E6"/><circle cx="450.52" cy="788.71" r="4.4" fill="#1212E6"/><circle cx="462.00" cy="792.82" r="4.4" fill="#1212E6"/><circle cx="473.48" cy="794.87" r="4.4" fill="#1212E6"/><circle cx="484.96" cy="796.72" r="4.4" fill="#1212E6"/><circle cx="496.44" cy="794.87" r="4.4" fill="#1212E6"/>
<path d="M83.16,789.33 L94.64,773.50 L106.12,771.24 L117.60,770.42 L129.08,772.68 L140.56,772.68 L152.04,772.68 L163.52,762.61 L175.00,766.93 L186.48,756.24 L197.96,750.07 L209.44,750.90 L220.92,731.58 L232.40,722.33 L243.88,718.43 L255.36,706.10 L266.84,685.75 L278.32,683.08 L289.80,672.60 L301.28,677.74 L312.76,678.56 L324.24,696.23 L335.72,714.52 L347.20,726.85 L358.68,742.47 L370.16,744.73 L381.64,744.12 L393.12,760.35 L404.60,759.12 L416.08,767.54 L427.56,766.51 L439.04,764.46 L450.52,768.57 L462.00,767.54 L473.48,767.54 L484.96,767.54 L496.44,784.60" fill="none" stroke="#1212E6" stroke-width="2.8" stroke-dasharray="2.2 2"/><path d="M83.16,786.86V791.79M78.86,786.86h8.6M78.86,791.79h8.6M94.64,770.09V776.92M90.34,770.09h8.6M90.34,776.92h8.6M106.12,767.69V774.79M101.82,767.69h8.6M101.82,774.79h8.6M117.60,766.82V774.02M113.30,766.82h8.6M113.30,774.02h8.6M129.08,769.21V776.14M124.78,769.21h8.6M124.78,776.14h8.6M140.56,769.21V776.14M136.26,769.21h8.6M136.26,776.14h8.6M152.04,769.21V776.14M147.74,769.21h8.6M147.74,776.14h8.6M163.52,758.54V766.68M159.22,758.54h8.6M159.22,766.68h8.6M175.00,763.12V770.74M170.70,763.12h8.6M170.70,770.74h8.6M186.48,751.79V760.69M182.18,751.79h8.6M182.18,760.69h8.6M197.96,745.25V754.90M193.66,745.25h8.6M193.66,754.90h8.6M209.44,746.12V755.67M205.14,746.12h8.6M205.14,755.67h8.6M220.92,725.65V737.51M216.62,725.65h8.6M216.62,737.51h8.6M232.40,715.85V728.82M228.10,715.85h8.6M228.10,728.82h8.6M243.88,711.71V725.15M239.58,711.71h8.6M239.58,725.15h8.6M255.36,698.64V713.56M251.06,698.64h8.6M251.06,713.56h8.6M266.84,677.07V694.43M262.54,677.07h8.6M262.54,694.43h8.6M278.32,674.24V691.92M274.02,674.24h8.6M274.02,691.92h8.6M289.80,663.13V682.07M285.50,663.13h8.6M285.50,682.07h8.6M301.28,668.58V686.90M296.98,668.58h8.6M296.98,686.90h8.6M312.76,669.45V687.67M308.46,669.45h8.6M308.46,687.67h8.6M324.24,688.18V704.28M319.94,688.18h8.6M319.94,704.28h8.6M335.72,707.57V721.48M331.42,707.57h8.6M331.42,721.48h8.6M347.20,720.64V733.07M342.90,720.64h8.6M342.90,733.07h8.6M358.68,737.19V747.75M354.38,737.19h8.6M354.38,747.75h8.6M370.16,739.59V749.87M365.86,739.59h8.6M365.86,749.87h8.6M381.64,738.94V749.29M377.34,738.94h8.6M377.34,749.29h8.6M393.12,756.14V764.55M388.82,756.14h8.6M388.82,764.55h8.6M404.60,754.84V763.40M400.30,754.84h8.6M400.30,763.40h8.6M416.08,763.77V771.31M411.78,763.77h8.6M411.78,771.31h8.6M427.56,762.68V770.35M423.26,762.68h8.6M423.26,770.35h8.6M439.04,760.50V768.42M434.74,760.50h8.6M434.74,768.42h8.6M450.52,764.86V772.28M446.22,764.86h8.6M446.22,772.28h8.6M462.00,763.77V771.31M457.70,763.77h8.6M457.70,771.31h8.6M473.48,763.77V771.31M469.18,763.77h8.6M469.18,771.31h8.6M484.96,763.77V771.31M480.66,763.77h8.6M480.66,771.31h8.6M496.44,781.85V787.35M492.14,781.85h8.6M492.14,787.35h8.6" fill="none" stroke="#1212E6" stroke-width="2.5"/><rect x="79.41" y="785.58" width="7.5" height="7.5" fill="#1212E6"/><rect x="90.89" y="769.75" width="7.5" height="7.5" fill="#1212E6"/><rect x="102.37" y="767.49" width="7.5" height="7.5" fill="#1212E6"/><rect x="113.85" y="766.67" width="7.5" height="7.5" fill="#1212E6"/><rect x="125.33" y="768.93" width="7.5" height="7.5" fill="#1212E6"/><rect x="136.81" y="768.93" width="7.5" height="7.5" fill="#1212E6"/><rect x="148.29" y="768.93" width="7.5" height="7.5" fill="#1212E6"/><rect x="159.77" y="758.86" width="7.5" height="7.5" fill="#1212E6"/><rect x="171.25" y="763.18" width="7.5" height="7.5" fill="#1212E6"/><rect x="182.73" y="752.49" width="7.5" height="7.5" fill="#1212E6"/><rect x="194.21" y="746.32" width="7.5" height="7.5" fill="#1212E6"/><rect x="205.69" y="747.15" width="7.5" height="7.5" fill="#1212E6"/><rect x="217.17" y="727.83" width="7.5" height="7.5" fill="#1212E6"/><rect x="228.65" y="718.58" width="7.5" height="7.5" fill="#1212E6"/><rect x="240.13" y="714.68" width="7.5" height="7.5" fill="#1212E6"/><rect x="251.61" y="702.35" width="7.5" height="7.5" fill="#1212E6"/><rect x="263.09" y="682.00" width="7.5" height="7.5" fill="#1212E6"/><rect x="274.57" y="679.33" width="7.5" height="7.5" fill="#1212E6"/><rect x="286.05" y="668.85" width="7.5" height="7.5" fill="#1212E6"/><rect x="297.53" y="673.99" width="7.5" height="7.5" fill="#1212E6"/><rect x="309.01" y="674.81" width="7.5" height="7.5" fill="#1212E6"/><rect x="320.49" y="692.48" width="7.5" height="7.5" fill="#1212E6"/><rect x="331.97" y="710.77" width="7.5" height="7.5" fill="#1212E6"/><rect x="343.45" y="723.10" width="7.5" height="7.5" fill="#1212E6"/><rect x="354.93" y="738.72" width="7.5" height="7.5" fill="#1212E6"/><rect x="366.41" y="740.98" width="7.5" height="7.5" fill="#1212E6"/><rect x="377.89" y="740.37" width="7.5" height="7.5" fill="#1212E6"/><rect x="389.37" y="756.60" width="7.5" height="7.5" fill="#1212E6"/><rect x="400.85" y="755.37" width="7.5" height="7.5" fill="#1212E6"/><rect x="412.33" y="763.79" width="7.5" height="7.5" fill="#1212E6"/><rect x="423.81" y="762.76" width="7.5" height="7.5" fill="#1212E6"/><rect x="435.29" y="760.71" width="7.5" height="7.5" fill="#1212E6"/><rect x="446.77" y="764.82" width="7.5" height="7.5" fill="#1212E6"/><rect x="458.25" y="763.79" width="7.5" height="7.5" fill="#1212E6"/><rect x="469.73" y="763.79" width="7.5" height="7.5" fill="#1212E6"/><rect x="481.21" y="763.79" width="7.5" height="7.5" fill="#1212E6"/><rect x="492.69" y="780.85" width="7.5" height="7.5" fill="#1212E6"/>
</g>
<path d="M62,799.60h4.5M62,758.50h4.5M62,717.40h4.5M62,676.30h4.5M62,635.20h4.5M62,594.10h4.5M62,553.00h4.5M62,511.90h4.5M62,470.80h4.5M117.60,800v-4.5M175.00,800v-4.5M232.40,800v-4.5M289.80,800v-4.5M347.20,800v-4.5M404.60,800v-4.5M462.00,800v-4.5" stroke="#000" stroke-width="2" fill="none"/>
<rect x="61.5" y="429.6" width="452" height="370.2" fill="none" stroke="#000" stroke-width="2.6"/>
<text transform="translate(44.65,806.00) scale(1.1389,1)" font-size="16.90">0</text>
<text transform="translate(19.48,764.40) scale(1.0993,1)" font-size="16.90">0.02</text>
<text transform="translate(19.48,723.80) scale(1.0870,1)" font-size="16.90">0.04</text>
<text transform="translate(19.48,682.20) scale(1.0958,1)" font-size="16.90">0.06</text>
<text transform="translate(19.48,640.60) scale(1.0952,1)" font-size="16.90">0.08</text>
<text transform="translate(19.48,598.80) scale(1.0928,1)" font-size="16.90">0.10</text>
<text transform="translate(19.48,558.50) scale(1.0993,1)" font-size="16.90">0.12</text>
<text transform="translate(19.48,517.20) scale(1.0870,1)" font-size="16.90">0.14</text>
<text transform="translate(19.48,475.50) scale(1.0958,1)" font-size="16.90">0.16</text>
<text transform="translate(95.28,820.60) scale(1.1168,1)" font-size="16.80">&#8722;150</text>
<text transform="translate(152.81,820.60) scale(1.0838,1)" font-size="16.80">&#8722;100</text>
<text transform="translate(213.40,820.60) scale(1.0883,1)" font-size="16.80">&#8722;50</text>
<text transform="translate(283.29,820.60) scale(1.0834,1)" font-size="16.80">0</text>
<text transform="translate(336.01,820.60) scale(1.1697,1)" font-size="16.80">50</text>
<text transform="translate(391.74,820.60) scale(1.0617,1)" font-size="16.80">100</text>
<text transform="translate(447.11,820.60) scale(1.0924,1)" font-size="16.80">150</text>
<text transform="translate(260.36,839.90) scale(1.0366,1)" font-size="17.60">Angle (&#176;)</text>
<text transform="translate(11.70,690.00) rotate(-90.00) translate(-0.03,0) scale(1.0380,1)" font-size="16.30">Angular</text>
<text transform="translate(11.70,690.00) rotate(-90.00) translate(67.58,0) scale(1.0615,1)" font-size="16.30">Distribution</text>
<rect x="84.6" y="451.3" width="157.6" height="74" fill="#fff" stroke="#000" stroke-width="2.6"/>
<line x1="96" y1="464.9" x2="124.7" y2="464.9" stroke="#E8232B" stroke-width="2.5"/>
<circle cx="110" cy="464.9" r="4.3" fill="#E8232B"/>
<line x1="96" y1="480.0" x2="124.7" y2="480.0" stroke="#E8232B" stroke-width="2.5" stroke-dasharray="2.2 2"/>
<rect x="105.6" y="475.6" width="8.8" height="8.8" fill="#E8232B"/>
<line x1="96" y1="496.7" x2="124.7" y2="496.7" stroke="#1212E6" stroke-width="2.5"/>
<circle cx="110" cy="496.7" r="4.3" fill="#1212E6"/>
<line x1="96" y1="512.0" x2="124.7" y2="512.0" stroke="#1212E6" stroke-width="2.5" stroke-dasharray="2.2 2"/>
<rect x="105.6" y="507.6" width="8.8" height="8.8" fill="#1212E6"/>
<text transform="translate(140.64,468.10) scale(1.0318,1)" font-size="12.20">10 kPa Directed</text>
<text transform="translate(140.66,484.00) scale(1.0192,1)" font-size="12.20">10 kPa Random</text>
<text transform="translate(133.74,499.80) scale(1.0307,1)" font-size="12.20">100 kPa Directed</text>
<text transform="translate(133.76,515.90) scale(1.0191,1)" font-size="12.20">100 kPa Random</text>
</svg></body></html>
